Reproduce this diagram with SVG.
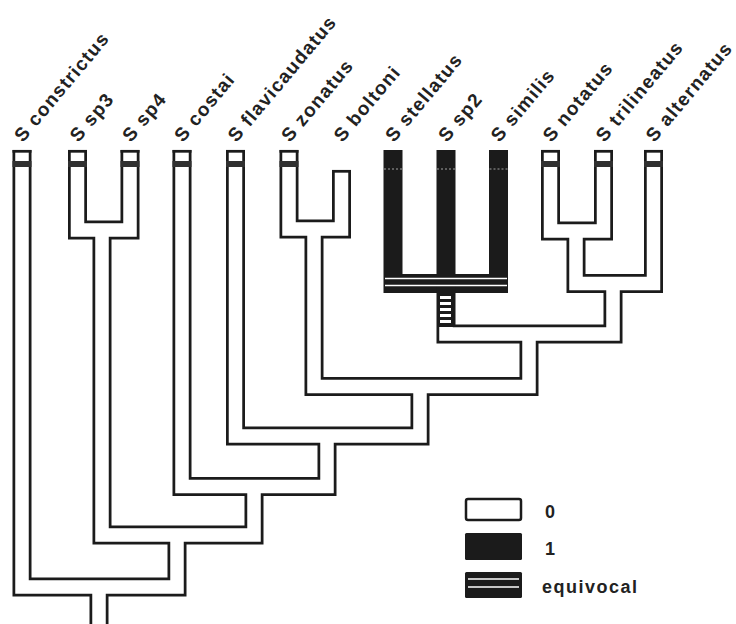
<svg xmlns="http://www.w3.org/2000/svg" xmlns:xlink="http://www.w3.org/1999/xlink" width="736" height="624" viewBox="0 0 736 624">
  <style>
    .tube-o { fill: none; stroke: #1b1b1b; stroke-width: 19; stroke-linejoin: miter; }
    .tube-i { fill: none; stroke: #ffffff; stroke-width: 13.5; stroke-linejoin: miter; }
    .cap { stroke: #1b1b1b; stroke-width: 2.75; }
    .band { fill: #303030; }
    .stripe { stroke: #ffffff; stroke-width: 1.6; }
    .lbl { font-family: "Liberation Sans", Arial, sans-serif; font-weight: bold; font-size: 19px; letter-spacing: 1.2px; fill: #222222; }
    .key { font-family: "Liberation Sans", Arial, sans-serif; font-weight: bold; font-size: 18px; letter-spacing: 1.5px; fill: #222222; }
  </style>
  <defs>
    <!-- skeleton of each clade: children down to the join, across, and the stem -->
    <path id="eA" d="M77.5 150V230H130V150"/>
    <path id="eB" d="M289 150V229H341.5V170"/>
    <path id="eC" d="M550.5 150V231H603.5V150"/>
    <path id="eD" d="M576 231V283.5H653.5V150"/>
    <path id="eE" d="M393 150V283.5H498.5V150M446 150V283.5"/>
    <path id="eF" d="M446 283.5V334H613V283.5"/>
    <path id="eFi" d="M446 327V334H613V283.5"/>
    <path id="eG" d="M314 229V386.5H529V334"/>
    <path id="eH" d="M235.5 150V436H420V386.5"/>
    <path id="eI" d="M182 150V486.5H327V436"/>
    <path id="eJ" d="M102 230V535H254V486.5"/>
    <path id="eK" d="M22 150V587H177V535M99 587V630"/>
  </defs>

  <rect width="736" height="624" fill="#ffffff"/>

  <g id="connectors">
    <g class="tube-o">
      <use xlink:href="#eA"/><use xlink:href="#eB"/><use xlink:href="#eC"/>
      <use xlink:href="#eD"/><use xlink:href="#eE"/><use xlink:href="#eF"/>
      <use xlink:href="#eG"/><use xlink:href="#eH"/><use xlink:href="#eI"/>
      <use xlink:href="#eJ"/><use xlink:href="#eK"/>
    </g>
    <g class="tube-i">
      <use xlink:href="#eA"/><use xlink:href="#eB"/><use xlink:href="#eC"/>
      <use xlink:href="#eD"/><use xlink:href="#eFi"/>
      <use xlink:href="#eG"/><use xlink:href="#eH"/><use xlink:href="#eI"/>
      <use xlink:href="#eJ"/><use xlink:href="#eK"/>
    </g>
    <!-- equivocal join of the black clade -->
    <g id="equivocal-join">
      <line class="stripe" x1="385" y1="278.5" x2="507" y2="278.5"/>
      <line class="stripe" x1="385" y1="285.5" x2="507" y2="285.5"/>
      <g fill="#ffffff">
        <rect x="440" y="296" width="11" height="3"/>
        <rect x="440" y="302" width="11" height="3"/>
        <rect x="440" y="308" width="11" height="3"/>
        <rect x="440" y="314" width="11" height="3"/>
        <rect x="440" y="320" width="11" height="3"/>
      </g>
    </g>
  </g>

  <g id="tip-constrictus">
    <line class="cap" x1="12.5" y1="151.3" x2="31.5" y2="151.3"/>
    <rect class="band" x="12.5" y="161" width="19" height="6"/>
    <text class="lbl" transform="translate(23 143) rotate(-50)">S constrictus</text>
  </g>
  <g id="tip-sp3">
    <line class="cap" x1="68" y1="151.3" x2="87" y2="151.3"/>
    <rect class="band" x="68" y="161" width="19" height="6"/>
    <text class="lbl" transform="translate(78.5 143) rotate(-50)">S sp3</text>
  </g>
  <g id="tip-sp4">
    <line class="cap" x1="120.5" y1="151.3" x2="139.5" y2="151.3"/>
    <rect class="band" x="120.5" y="161" width="19" height="6"/>
    <text class="lbl" transform="translate(131 143) rotate(-50)">S sp4</text>
  </g>
  <g id="tip-costai">
    <line class="cap" x1="172.5" y1="151.3" x2="191.5" y2="151.3"/>
    <rect class="band" x="172.5" y="161" width="19" height="6"/>
    <text class="lbl" transform="translate(183 143) rotate(-50)">S costai</text>
  </g>
  <g id="tip-flavicaudatus">
    <line class="cap" x1="226" y1="151.3" x2="245" y2="151.3"/>
    <rect class="band" x="226" y="161" width="19" height="6"/>
    <text class="lbl" transform="translate(236.5 143) rotate(-50)">S flavicaudatus</text>
  </g>
  <g id="tip-zonatus">
    <line class="cap" x1="279.5" y1="151.3" x2="298.5" y2="151.3"/>
    <rect class="band" x="279.5" y="161" width="19" height="6"/>
    <text class="lbl" transform="translate(290 143) rotate(-50)">S zonatus</text>
  </g>
  <g id="tip-boltoni">
    <line class="cap" x1="332" y1="171.3" x2="351" y2="171.3"/>
    <text class="lbl" transform="translate(342.5 143) rotate(-50)">S boltoni</text>
  </g>
  <g id="tip-stellatus">
    <line x1="384" y1="169" x2="402" y2="169" stroke="#ffffff" stroke-width="1" stroke-dasharray="2 2" opacity="0.6"/>
    <text class="lbl" transform="translate(394 143) rotate(-50)">S stellatus</text>
  </g>
  <g id="tip-sp2">
    <line x1="437" y1="169" x2="455" y2="169" stroke="#ffffff" stroke-width="1" stroke-dasharray="2 2" opacity="0.6"/>
    <text class="lbl" transform="translate(447 143) rotate(-50)">S sp2</text>
  </g>
  <g id="tip-similis">
    <line x1="489.5" y1="169" x2="507.5" y2="169" stroke="#ffffff" stroke-width="1" stroke-dasharray="2 2" opacity="0.6"/>
    <text class="lbl" transform="translate(499.5 143) rotate(-50)">S similis</text>
  </g>
  <g id="tip-notatus">
    <line class="cap" x1="541" y1="151.3" x2="560" y2="151.3"/>
    <rect class="band" x="541" y="161" width="19" height="6"/>
    <text class="lbl" transform="translate(551.5 143) rotate(-50)">S notatus</text>
  </g>
  <g id="tip-trilineatus">
    <line class="cap" x1="594" y1="151.3" x2="613" y2="151.3"/>
    <rect class="band" x="594" y="161" width="19" height="6"/>
    <text class="lbl" transform="translate(604.5 143) rotate(-50)">S trilineatus</text>
  </g>
  <g id="tip-alternatus">
    <line class="cap" x1="644" y1="151.3" x2="663" y2="151.3"/>
    <rect class="band" x="644" y="161" width="19" height="6"/>
    <text class="lbl" transform="translate(654.5 143) rotate(-50)">S alternatus</text>
  </g>

  <g id="legend">
    <rect x="466" y="499" width="55" height="21" rx="2" fill="#ffffff" stroke="#1b1b1b" stroke-width="2.5"/>
    <text class="key" x="545" y="518">0</text>
    <rect x="465" y="533" width="57" height="27" rx="1.5" fill="#1b1b1b"/>
    <text class="key" x="545" y="555">1</text>
    <rect x="465" y="572" width="57" height="26" rx="1.5" fill="#1b1b1b"/>
    <line class="stripe" x1="468" y1="579" x2="519" y2="579"/>
    <line class="stripe" x1="468" y1="587" x2="519" y2="587" stroke-width="2.4"/>
    <text class="key" x="542" y="593">equivocal</text>
  </g>
</svg>
